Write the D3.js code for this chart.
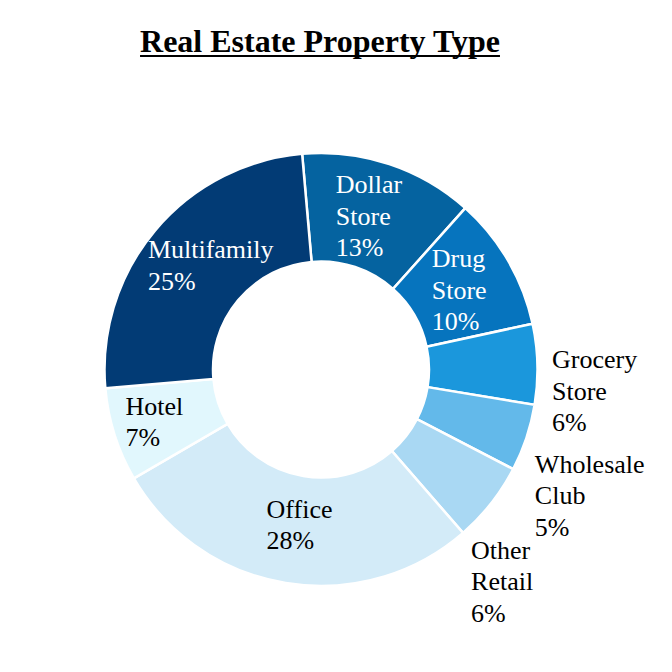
<!DOCTYPE html>
<html>
<head>
<meta charset="utf-8">
<script src="https://cdn.jsdelivr.net/npm/d3@7"></script>
<style>
  body { margin: 0; background: #fff; }
</style>
</head>
<body>
<svg id="chart"></svg>
<script>
// slices in clockwise order, starting near 12 o'clock
const categories = ["Dollar Store", "Drug Store", "Grocery Store", "Wholesale Club", "Other Retail", "Office", "Hotel", "Multifamily"];
const shares = [13, 10, 6, 5, 6, 28, 7, 25];
const colours = ["#0563a0", "#0674be", "#1b97dc", "#63b9ea", "#a9d8f3", "#d3ebf8", "#e1f7fd", "#023b75"];
// label lines as printed on the chart
const labelLines = [["Dollar", "Store"], ["Drug", "Store"], ["Grocery", "Store"], ["Wholesale", "Club"], ["Other", "Retail"], ["Office"], ["Hotel"], ["Multifamily"]];
const outsideLabels = ["Grocery Store", "Wholesale Club", "Other Retail"];
const whiteText = ["Dollar Store", "Drug Store", "Multifamily"];

const data = categories.map((c, i) => ({ name: c, value: shares[i], colour: colours[i], lines: labelLines[i] }));

const width = 672, height = 672;
const cx = 321, cy = 369.5;
const outerR = 216.5, innerR = 108;
const fontSize = 26, lineH = 31.5;

// small hand nudges so labels sit where the original placed them
const labelNudge = {
  "Dollar Store": [-3, 2],
  "Drug Store": [-2, 4],
  "Multifamily": [14, 2],
  "Hotel": [-12, 5],
  "Office": [5, -3],
  "Grocery Store": [-1, 6],
  "Wholesale Club": [5, 18],
  "Other Retail": [-11, 25]
};

const svg = d3.select("#chart")
  .attr("width", width)
  .attr("height", height)
  .attr("font-family", "'Liberation Serif', 'Times New Roman', serif");

// title
const title = svg.append("text")
  .attr("x", 320)
  .attr("y", 52)
  .attr("text-anchor", "middle")
  .attr("font-size", 32)
  .attr("font-weight", "bold")
  .text("Real Estate Property Type");
const tb = title.node().getBBox();
svg.append("line")
  .attr("x1", tb.x).attr("x2", tb.x + tb.width)
  .attr("y1", 56).attr("y2", 56)
  .attr("stroke", "#000")
  .attr("stroke-width", 2);

const start = -5 * Math.PI / 180;
const pie = d3.pie()
  .sort(null)
  .value(d => d.value)
  .startAngle(start)
  .endAngle(start + 2 * Math.PI);

const arc = d3.arc()
  .innerRadius(innerR)
  .outerRadius(outerR);

const g = svg.append("g")
  .attr("transform", `translate(${cx},${cy})`);

const arcs = pie(data);

g.selectAll(".slice")
  .data(arcs)
  .join("path")
  .attr("class", "slice")
  .attr("d", arc)
  .attr("fill", d => d.data.colour)
  .attr("stroke", "#fff")
  .attr("stroke-width", 2.5);

// labels: text block of name lines + percentage
const labels = g.selectAll(".label")
  .data(arcs)
  .join("text")
  .attr("class", "label")
  .attr("font-size", fontSize)
  .attr("fill", d => whiteText.includes(d.data.name) ? "#fff" : "#000");

labels.each(function(d) {
  const t = d3.select(this);
  const lines = d.data.lines.concat([d.data.value + "%"]);
  lines.forEach((l, i) => {
    t.append("tspan").attr("x", 0).attr("dy", i === 0 ? 0 : lineH).text(l);
  });
  const bb = this.getBBox();
  const w = bb.width;
  const h = lineH * (lines.length - 1) + fontSize * 0.9;
  let bx, by;
  if (outsideLabels.includes(d.data.name)) {
    const a = (d.startAngle + d.endAngle) / 2 + 5 * Math.PI / 180;
    const r = outerR + 16;
    const px = r * Math.sin(a), py = -r * Math.cos(a);
    bx = px - w / 2 + (w / 2) * Math.sin(a);
    by = py - h / 2 - (h / 2) * Math.cos(a);
  } else {
    const [mx, my] = arc.centroid(d);
    bx = mx - w / 2;
    by = my - h / 2;
  }
  const [nx, ny] = labelNudge[d.data.name];
  t.selectAll("tspan").attr("x", bx + nx);
  t.attr("y", by + ny + fontSize * 0.72);
});
</script>
</body>
</html>
